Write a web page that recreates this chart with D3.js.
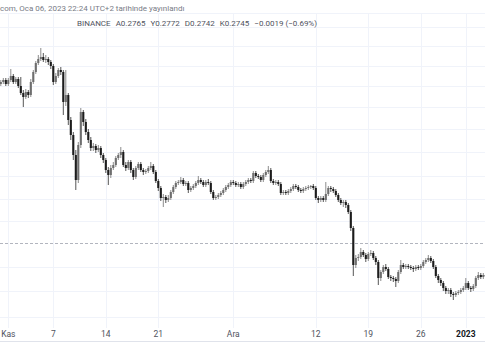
<!DOCTYPE html>
<html><head><meta charset="utf-8">
<script src="https://cdn.jsdelivr.net/npm/d3@7"></script>
<style>body{margin:0;background:#fff}svg{display:block}</style>
</head><body><svg id="c" width="485" height="360"></svg>
<script>
// ---- data (8h candles starting 2022-10-31 00:00 UTC) ----
const firstCandle = Date.UTC(2022, 9, 31, 0);
const candleHours = 8;
const open = [0.4335,0.4355,0.4375,0.4335,0.4375,0.4415,0.4355,0.4385,0.4315,0.4245,0.4205,0.4255,0.4225,0.4355,0.4455,0.4545,0.4585,0.4605,0.4575,0.4585,0.4555,0.4515,0.4355,0.4415,0.4475,0.4455,0.4155,0.4225,0.3975,0.3825,0.3625,0.3375,0.3725,0.4055,0.3955,0.3855,0.3775,0.3695,0.3715,0.3675,0.3695,0.3625,0.3575,0.3475,0.3425,0.3495,0.3525,0.3595,0.3625,0.3655,0.3525,0.3495,0.3555,0.3475,0.3405,0.3495,0.3535,0.3475,0.3455,0.3465,0.3495,0.3515,0.3455,0.3365,0.3295,0.3195,0.3205,0.3175,0.3195,0.3255,0.3305,0.3345,0.3355,0.3375,0.3335,0.3345,0.3275,0.3295,0.3315,0.3345,0.3375,0.3355,0.3325,0.3355,0.3345,0.3255,0.3195,0.3205,0.3225,0.3245,0.3275,0.3305,0.3325,0.3355,0.3345,0.3325,0.3335,0.3305,0.3335,0.3355,0.3375,0.3365,0.3445,0.3415,0.3405,0.3375,0.3425,0.3455,0.3475,0.3365,0.3345,0.3355,0.3335,0.3245,0.3255,0.3245,0.3265,0.3285,0.3315,0.3305,0.3275,0.3265,0.3285,0.3295,0.3305,0.3315,0.3295,0.3195,0.3175,0.3195,0.3175,0.3235,0.3295,0.3285,0.3265,0.3225,0.3175,0.3145,0.3155,0.3125,0.3055,0.2895,0.2525,0.2595,0.2605,0.2655,0.2625,0.2585,0.2635,0.2645,0.2595,0.2555,0.2395,0.2455,0.2505,0.2485,0.2405,0.2395,0.2385,0.2365,0.2455,0.2525,0.2505,0.2515,0.2505,0.2495,0.2485,0.2505,0.2495,0.2515,0.2555,0.2575,0.2595,0.2565,0.2505,0.2415,0.2375,0.2345,0.2295,0.2265,0.2275,0.2235,0.2225,0.2245,0.2255,0.2275,0.2295,0.2345,0.2295,0.2285,0.2315,0.2395,0.2425,0.2405,0.2425];
const high = [0.4375,0.4395,0.4395,0.4395,0.4485,0.4435,0.4405,0.4405,0.4405,0.4275,0.4285,0.4275,0.4385,0.4475,0.4565,0.4625,0.4695,0.4645,0.4625,0.4605,0.4575,0.4535,0.4445,0.4495,0.4505,0.4475,0.4475,0.4245,0.4005,0.3855,0.3675,0.3755,0.4095,0.4075,0.3985,0.3885,0.3805,0.3745,0.3735,0.3725,0.3715,0.3645,0.3595,0.3505,0.3525,0.3555,0.3615,0.3645,0.3705,0.3675,0.3555,0.3575,0.3575,0.3495,0.3515,0.3555,0.3555,0.3495,0.3485,0.3515,0.3555,0.3535,0.3475,0.3385,0.3315,0.3235,0.3225,0.3225,0.3275,0.3325,0.3365,0.3375,0.3405,0.3395,0.3365,0.3365,0.3315,0.3335,0.3365,0.3415,0.3395,0.3375,0.3375,0.3385,0.3365,0.3275,0.3225,0.3245,0.3265,0.3295,0.3325,0.3345,0.3375,0.3375,0.3365,0.3355,0.3355,0.3355,0.3375,0.3395,0.3395,0.3465,0.3465,0.3435,0.3425,0.3445,0.3475,0.3515,0.3495,0.3385,0.3375,0.3375,0.3355,0.3275,0.3275,0.3285,0.3305,0.3335,0.3335,0.3325,0.3295,0.3305,0.3315,0.3325,0.3325,0.3335,0.3315,0.3215,0.3215,0.3215,0.3355,0.3315,0.3315,0.3305,0.3285,0.3245,0.3195,0.3175,0.3175,0.3145,0.3075,0.2915,0.2625,0.2635,0.2695,0.2675,0.2645,0.2655,0.2675,0.2665,0.2615,0.2575,0.2475,0.2525,0.2535,0.2505,0.2425,0.2415,0.2405,0.2475,0.2575,0.2545,0.2535,0.2535,0.2525,0.2515,0.2525,0.2525,0.2535,0.2575,0.2595,0.2625,0.2615,0.2585,0.2525,0.2435,0.2395,0.2365,0.2315,0.2295,0.2295,0.2255,0.2265,0.2275,0.2295,0.2315,0.2395,0.2365,0.2315,0.2335,0.2415,0.2455,0.2445,0.2445,0.2445];
const low = [0.4315,0.4335,0.4315,0.4315,0.4355,0.4335,0.4335,0.4295,0.4225,0.4105,0.4185,0.4195,0.4205,0.4335,0.4435,0.4525,0.4565,0.4555,0.4545,0.4525,0.4485,0.4325,0.4335,0.4395,0.4425,0.4025,0.4115,0.3925,0.3775,0.3575,0.3275,0.3345,0.3695,0.3915,0.3825,0.3745,0.3665,0.3665,0.3645,0.3655,0.3595,0.3545,0.3445,0.3325,0.3395,0.3475,0.3505,0.3575,0.3595,0.3505,0.3465,0.3475,0.3445,0.3375,0.3385,0.3475,0.3455,0.3425,0.3435,0.3445,0.3475,0.3435,0.3345,0.3265,0.3165,0.3105,0.3145,0.3155,0.3175,0.3235,0.3285,0.3325,0.3335,0.3315,0.3315,0.3245,0.3255,0.3275,0.3295,0.3325,0.3335,0.3305,0.3305,0.3325,0.3235,0.3175,0.3175,0.3185,0.3205,0.3225,0.3255,0.3285,0.3305,0.3325,0.3305,0.3305,0.3285,0.3285,0.3315,0.3335,0.3345,0.3345,0.3395,0.3385,0.3355,0.3355,0.3405,0.3435,0.3345,0.3325,0.3325,0.3315,0.3225,0.3225,0.3225,0.3225,0.3245,0.3265,0.3285,0.3255,0.3245,0.3245,0.3265,0.3275,0.3285,0.3275,0.3175,0.3145,0.3155,0.3155,0.3155,0.3215,0.3255,0.3245,0.3205,0.3155,0.3125,0.3105,0.3095,0.3035,0.2865,0.2415,0.2495,0.2565,0.2585,0.2605,0.2555,0.2565,0.2615,0.2575,0.2525,0.2325,0.2365,0.2435,0.2465,0.2385,0.2365,0.2355,0.2305,0.2345,0.2435,0.2485,0.2485,0.2485,0.2475,0.2455,0.2465,0.2475,0.2475,0.2495,0.2535,0.2555,0.2545,0.2485,0.2395,0.2345,0.2315,0.2265,0.2235,0.2235,0.2205,0.2175,0.2205,0.2225,0.2235,0.2255,0.2275,0.2275,0.2255,0.2265,0.2295,0.2375,0.2385,0.2385,0.2395];
const close = [0.4355,0.4375,0.4335,0.4375,0.4415,0.4355,0.4385,0.4315,0.4245,0.4205,0.4255,0.4225,0.4355,0.4455,0.4545,0.4585,0.4605,0.4575,0.4585,0.4555,0.4515,0.4355,0.4415,0.4475,0.4455,0.4155,0.4225,0.3975,0.3825,0.3625,0.3375,0.3725,0.4055,0.3955,0.3855,0.3775,0.3695,0.3715,0.3675,0.3695,0.3625,0.3575,0.3475,0.3425,0.3495,0.3525,0.3595,0.3625,0.3655,0.3525,0.3495,0.3555,0.3475,0.3405,0.3495,0.3535,0.3475,0.3455,0.3465,0.3495,0.3515,0.3455,0.3365,0.3295,0.3195,0.3205,0.3175,0.3195,0.3255,0.3305,0.3345,0.3355,0.3375,0.3335,0.3345,0.3275,0.3295,0.3315,0.3345,0.3375,0.3355,0.3325,0.3355,0.3345,0.3255,0.3195,0.3205,0.3225,0.3245,0.3275,0.3305,0.3325,0.3355,0.3345,0.3325,0.3335,0.3305,0.3335,0.3355,0.3375,0.3365,0.3445,0.3415,0.3405,0.3375,0.3425,0.3455,0.3475,0.3365,0.3345,0.3355,0.3335,0.3245,0.3255,0.3245,0.3265,0.3285,0.3315,0.3305,0.3275,0.3265,0.3285,0.3295,0.3305,0.3315,0.3295,0.3195,0.3175,0.3195,0.3175,0.3235,0.3295,0.3285,0.3265,0.3225,0.3175,0.3145,0.3155,0.3125,0.3055,0.2895,0.2525,0.2595,0.2605,0.2655,0.2625,0.2585,0.2635,0.2645,0.2595,0.2555,0.2395,0.2455,0.2505,0.2485,0.2405,0.2395,0.2385,0.2365,0.2455,0.2525,0.2505,0.2515,0.2505,0.2495,0.2485,0.2505,0.2495,0.2515,0.2555,0.2575,0.2595,0.2565,0.2505,0.2415,0.2375,0.2345,0.2295,0.2265,0.2275,0.2235,0.2225,0.2245,0.2255,0.2275,0.2295,0.2345,0.2295,0.2285,0.2315,0.2395,0.2425,0.2405,0.2425,0.2415];

const tickDates = ["2022-11-01","2022-11-07","2022-11-14","2022-11-21","2022-12-01","2022-12-12","2022-12-19","2022-12-26","2023-01-01"];
const tickLabels = ["Kas","7","14","21","Ara","12","19","26","2023"];
const gridPrices = [0.4905,0.4715,0.4515,0.4315,0.4105,0.3885,0.3655,0.3415,0.3185,0.2965,0.2505,0.2265,0.2005];
const lastPrice = 0.2745;
const headerText = "com, Oca 06, 2023 22:24 UTC+2 tarihinde yayınlandı";
const legendLabels = ["BINANCE","A","Y","D","K",""];
const legendValues = ["","0.2765","0.2772","0.2742","0.2745","\u22120.0019 (\u22120.69%)"];

// ---- layout ----
const W = 485, H = 360;
const pane = {top: 13.5, bottom: 328};
const svg = d3.select("#c");
const font = "Roboto, 'Liberation Sans', sans-serif";

const x = d3.scaleUtc()
  .domain([new Date(Date.UTC(2022,10,1)), new Date(Date.UTC(2023,0,1))])
  .range([8.3, 465.8]);
const y = d3.scaleLinear().domain([0.5040, 0.1895]).range([pane.top, pane.bottom]);

const candles = close.map((c,i)=>({
  t: new Date(firstCandle + i*candleHours*3600e3),
  o: open[i], h: high[i], l: low[i], c
}));

// grid
const grid = svg.append("g");
grid.selectAll("line.h").data(gridPrices).join("line")
  .attr("x1",0).attr("x2",W)
  .attr("y1",d=>Math.round(y(d))+0.5).attr("y2",d=>Math.round(y(d))+0.5)
  .attr("stroke","#f0f3fa");
const tdates = tickDates.map(d=>new Date(d+"T00:00:00Z"));
grid.selectAll("line.v").data(tdates).join("line")
  .attr("x1",d=>Math.round(x(d))+0.5).attr("x2",d=>Math.round(x(d))+0.5)
  .attr("y1",pane.top).attr("y2",pane.bottom)
  .attr("stroke","#f0f3fa");
svg.append("line").attr("x1",0).attr("x2",W).attr("y1",pane.top).attr("y2",pane.top).attr("stroke","#f0f3fa");

// last price dashed line
svg.append("line").attr("x1",0).attr("x2",W)
  .attr("y1",Math.round(y(lastPrice))+0.5).attr("y2",Math.round(y(lastPrice))+0.5)
  .attr("stroke","#b2b5be").attr("stroke-dasharray","3,2");

// candles
const cg = svg.append("g");
const bodyW = 2.1;
cg.selectAll("line.w").data(candles).join("line")
  .attr("x1",d=>x(d.t)).attr("x2",d=>x(d.t))
  .attr("y1",d=>y(d.h)).attr("y2",d=>y(d.l))
  .attr("stroke",d=>d.c>=d.o?"#8c8c8c":"#555").attr("stroke-width",1);
cg.selectAll("rect").data(candles).join("rect")
  .attr("x",d=>x(d.t)-bodyW/2).attr("width",bodyW)
  .attr("y",d=>y(Math.max(d.o,d.c)))
  .attr("height",d=>Math.max(1,Math.abs(y(d.o)-y(d.c))))
  .attr("fill",d=>d.c>=d.o?"#6e6e6e":"#1c1c1c");

// time axis
const ax = svg.append("g").attr("font-family",font).attr("font-size",8.5);
ax.selectAll("text").data(tdates).join("text")
  .attr("x",d=>x(d)).attr("y",337)
  .attr("text-anchor","middle")
  .attr("fill",(d,i)=>tickLabels[i]==="2023"?"#131722":"#50535e")
  .attr("font-weight",(d,i)=>tickLabels[i]==="2023"?"bold":null)
  .text((d,i)=>tickLabels[i]);
svg.append("line").attr("x1",0).attr("x2",W).attr("y1",341.5).attr("y2",341.5).attr("stroke","#e0e3eb");

// header
svg.append("text").attr("x",0).attr("y",10.5)
  .attr("font-family",font).attr("font-size",8).attr("fill","#787b86").text(headerText);
const lg = svg.append("text").attr("x",77).attr("y",25.5)
  .attr("font-family",font).attr("font-size",8);
legendLabels.forEach((lab,i)=>{
  if(lab) lg.append("tspan").attr("dx", i?5:0).attr("fill","#50535e").text(lab);
  if(legendValues[i]) lg.append("tspan").attr("dx", lab?0:5).attr("fill","#50535e").text(legendValues[i]);
});
</script></body></html>
